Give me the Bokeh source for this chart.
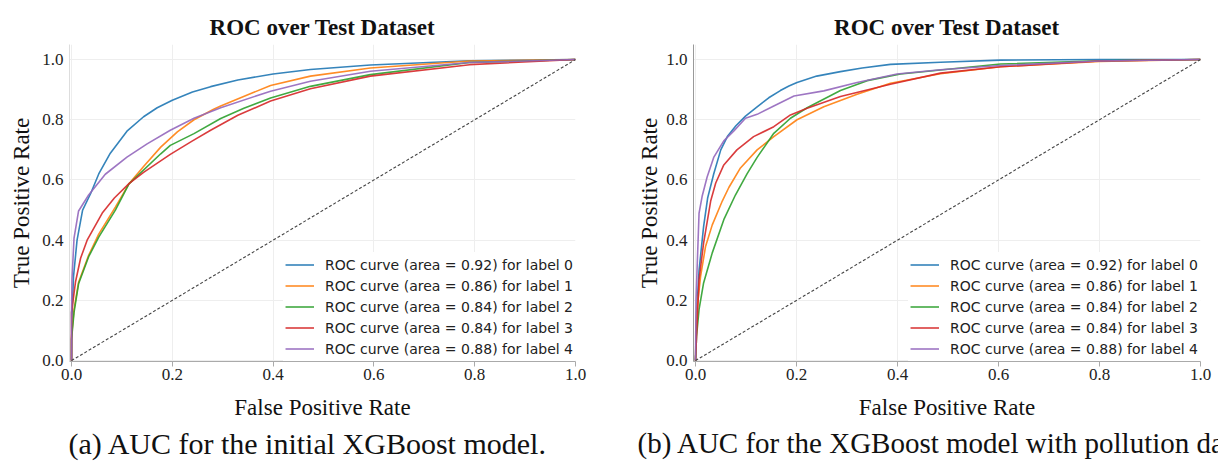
from bokeh.plotting import figure
from bokeh.layouts import row
from bokeh.models import Range1d, Title, Legend, LegendItem, FixedTicker
from bokeh.embed import file_html
from bokeh.resources import INLINE

# ---------------- data ----------------
tick_values = [0.0, 0.2, 0.4, 0.6, 0.8, 1.0]
tick_labels = ["0.0", "0.2", "0.4", "0.6", "0.8", "1.0"]

labels = ["ROC curve (area = 0.92) for label 0",
          "ROC curve (area = 0.86) for label 1",
          "ROC curve (area = 0.84) for label 2",
          "ROC curve (area = 0.84) for label 3",
          "ROC curve (area = 0.88) for label 4"]
colors = ["#1f77b4", "#ff7f0e", "#2ca02c", "#d62728", "#9467bd"]

chance_x = [0.0, 1.0]
chance_y = [0.0, 1.0]

# (a) initial XGBoost model
fpr_a0 = [0, 0.001, 0.004, 0.011, 0.022, 0.038, 0.054, 0.077, 0.11, 0.143, 0.17, 0.2, 0.24, 0.276, 0.33, 0.4, 0.474, 0.593, 0.79, 1.0]
tpr_a0 = [0, 0.15, 0.28, 0.40, 0.50, 0.555, 0.62, 0.689, 0.762, 0.81, 0.84, 0.865, 0.892, 0.91, 0.932, 0.952, 0.967, 0.982, 0.996, 1.0]
fpr_a1 = [0, 0.0, 0.005, 0.014, 0.034, 0.054, 0.087, 0.114, 0.143, 0.177, 0.21, 0.243, 0.282, 0.296, 0.395, 0.474, 0.593, 0.79, 1.0]
tpr_a1 = [0, 0.08, 0.17, 0.26, 0.35, 0.42, 0.51, 0.587, 0.645, 0.709, 0.76, 0.80, 0.835, 0.846, 0.914, 0.945, 0.972, 0.995, 1.0]
fpr_a2 = [0, 0.0, 0.005, 0.014, 0.034, 0.054, 0.087, 0.114, 0.177, 0.196, 0.243, 0.296, 0.342, 0.395, 0.474, 0.593, 0.79, 1.0]
tpr_a2 = [0, 0.07, 0.16, 0.255, 0.345, 0.41, 0.50, 0.587, 0.687, 0.715, 0.754, 0.804, 0.838, 0.872, 0.911, 0.95, 0.99, 1.0]
fpr_a3 = [0, 0.0, 0.008, 0.018, 0.031, 0.061, 0.085, 0.114, 0.143, 0.196, 0.24, 0.276, 0.33, 0.395, 0.474, 0.593, 0.79, 1.0]
tpr_a3 = [0, 0.16, 0.262, 0.34, 0.40, 0.49, 0.54, 0.588, 0.625, 0.685, 0.73, 0.765, 0.815, 0.862, 0.903, 0.945, 0.983, 1.0]
fpr_a4 = [0, 0.0, 0.001, 0.005, 0.014, 0.034, 0.067, 0.11, 0.15, 0.196, 0.243, 0.296, 0.395, 0.474, 0.593, 0.79, 1.0]
tpr_a4 = [0, 0.15, 0.273, 0.407, 0.497, 0.55, 0.619, 0.676, 0.72, 0.765, 0.805, 0.84, 0.895, 0.928, 0.961, 0.99, 1.0]

# (b) XGBoost model with pollution data
fpr_b0 = [0, 0.002, 0.007, 0.016, 0.024, 0.036, 0.05, 0.063, 0.08, 0.099, 0.122, 0.145, 0.168, 0.185, 0.201, 0.24, 0.287, 0.33, 0.386, 0.485, 0.604, 0.8, 1.0]
tpr_b0 = [0, 0.15, 0.30, 0.445, 0.54, 0.62, 0.70, 0.744, 0.78, 0.812, 0.843, 0.873, 0.897, 0.912, 0.924, 0.945, 0.96, 0.972, 0.984, 0.991, 0.998, 1.0, 1.0]
fpr_b1 = [0, 0.001, 0.003, 0.01, 0.02, 0.033, 0.053, 0.066, 0.089, 0.122, 0.155, 0.201, 0.254, 0.32, 0.386, 0.485, 0.604, 0.8, 1.0]
tpr_b1 = [0, 0.10, 0.17, 0.28, 0.38, 0.45, 0.53, 0.575, 0.64, 0.70, 0.744, 0.80, 0.843, 0.885, 0.921, 0.953, 0.976, 0.994, 1.0]
fpr_b2 = [0, 0.002, 0.007, 0.016, 0.033, 0.056, 0.079, 0.102, 0.122, 0.155, 0.188, 0.221, 0.287, 0.34, 0.406, 0.604, 0.8, 1.0]
tpr_b2 = [0, 0.08, 0.17, 0.258, 0.357, 0.468, 0.55, 0.62, 0.675, 0.755, 0.805, 0.84, 0.897, 0.93, 0.952, 0.985, 0.996, 1.0]
fpr_b3 = [0, 0.002, 0.007, 0.016, 0.03, 0.04, 0.056, 0.082, 0.115, 0.155, 0.188, 0.221, 0.287, 0.386, 0.485, 0.604, 0.8, 1.0]
tpr_b3 = [0, 0.08, 0.27, 0.39, 0.53, 0.59, 0.65, 0.70, 0.744, 0.777, 0.816, 0.838, 0.877, 0.918, 0.955, 0.976, 0.995, 1.0]
fpr_b4 = [0, 0.001, 0.003, 0.007, 0.013, 0.023, 0.036, 0.056, 0.076, 0.099, 0.122, 0.155, 0.195, 0.254, 0.32, 0.399, 0.485, 0.604, 0.8, 1.0]
tpr_b4 = [0, 0.20, 0.30, 0.49, 0.545, 0.61, 0.675, 0.73, 0.763, 0.805, 0.818, 0.846, 0.879, 0.896, 0.924, 0.952, 0.966, 0.98, 0.995, 1.0]

panel_a = [(fpr_a0, tpr_a0), (fpr_a1, tpr_a1), (fpr_a2, tpr_a2), (fpr_a3, tpr_a3), (fpr_a4, tpr_a4)]
panel_b = [(fpr_b0, tpr_b0), (fpr_b1, tpr_b1), (fpr_b2, tpr_b2), (fpr_b3, tpr_b3), (fpr_b4, tpr_b4)]

title_text = "ROC over Test Dataset"
x_label = "False Positive Rate"
y_label = "True Positive Rate"
caption_a = "(a) AUC for the initial XGBoost model."
caption_b = "(b) AUC for the XGBoost model with pollution data."

SERIF = "Liberation Serif"


def make_panel(curves, caption, border_left, border_right, frame_w, yaxis_color,
               caption_offset, ylabel_standoff, caption_size):
    p = figure(frame_width=frame_w, frame_height=317,
               x_range=Range1d(-0.004, 1.0), y_range=Range1d(-0.003, 1.05),
               output_backend="svg", toolbar_location=None,
               min_border_left=border_left, min_border_right=border_right,
               min_border_top=44, min_border_bottom=106,
               background_fill_color="white", border_fill_color="white",
               outline_line_color=None)

    p.title.text = title_text
    p.title.text_font = SERIF
    p.title.text_font_style = "bold"
    p.title.text_font_size = "23px"
    p.title.align = "center"
    p.title.text_color = "#111111"
    p.title.standoff = 10

    overrides = {v: s for v, s in zip(tick_values, tick_labels)}
    for ax in (p.xaxis[0], p.yaxis[0]):
        ax.ticker = FixedTicker(ticks=tick_values)
        ax.major_label_overrides = overrides
        ax.major_label_text_font = SERIF
        ax.major_label_text_font_size = "17px"
        ax.major_label_text_color = "#222222"
        ax.axis_label_text_font = SERIF
        ax.axis_label_text_font_size = "23px"
        ax.axis_label_text_font_style = "normal"
        ax.axis_label_text_color = "#111111"
        ax.minor_tick_line_color = None
    p.xaxis.axis_label = x_label
    p.yaxis.axis_label = y_label
    p.xaxis.axis_line_color = "#aaaaaa"
    p.xaxis.major_tick_line_color = "#aaaaaa"
    p.xaxis.major_tick_out = 5
    p.xaxis.major_tick_in = 0
    p.xaxis.major_label_standoff = 2
    p.xaxis.axis_label_standoff = 12
    p.yaxis.axis_line_color = yaxis_color
    p.yaxis.major_tick_line_color = None
    p.yaxis.major_tick_out = 0
    p.yaxis.major_tick_in = 0
    p.yaxis.major_label_standoff = 6
    p.yaxis.axis_label_standoff = ylabel_standoff

    p.xgrid.grid_line_color = "#eeeeee"
    p.ygrid.grid_line_color = "#eeeeee"

    items = []
    for (fx, ty), col, lab in zip(curves, colors, labels):
        r = p.line(fx, ty, line_color=col, line_width=1.6, line_alpha=0.9)
        items.append(LegendItem(label=lab, renderers=[r]))
    p.line(chance_x, chance_y, line_color="#444444", line_width=1.1, line_dash="3 2")

    legend = Legend(items=items, location="bottom_right",
                    label_text_font="DejaVu Sans", label_text_font_size="14px",
                    label_text_color="#222222",
                    glyph_width=29, glyph_height=21, label_height=21,
                    label_standoff=11, spacing=0, padding=2, margin=0,
                    border_line_alpha=0, background_fill_color="white",
                    background_fill_alpha=1.0)
    p.add_layout(legend)

    cap = Title(text=caption, align="left", offset=caption_offset,
                text_font=SERIF, text_font_size=caption_size,
                text_font_style="normal", text_color="#111111", standoff=5)
    p.add_layout(cap, "below")
    return p


p1 = make_panel(panel_a, caption_a, 69, 40, 506, "#dddddd", -1, 5, "30px")
p2 = make_panel(panel_b, caption_b, 78, 18, 507, "#999999", -56, 1, "29px")

layout = row(p1, p2, spacing=0)
open("out.html", "w").write(file_html(layout, INLINE))
